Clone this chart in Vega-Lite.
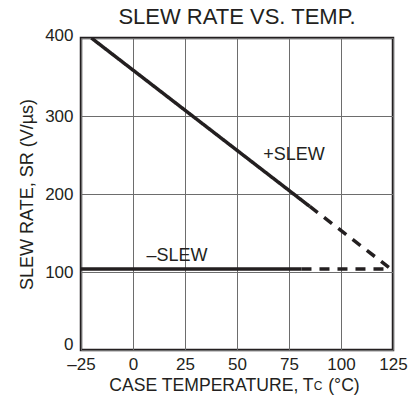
{
  "$schema": "https://vega.github.io/schema/vega-lite/v6.json",
  "width": 312,
  "height": 312,
  "autosize": {"type": "none"},
  "padding": {"left": 81, "top": 38, "right": 24, "bottom": 50},
  "background": "white",
  "config": {
    "font": "Liberation Sans",
    "view": {"stroke": "#231f20", "strokeWidth": 2.5},
    "axis": {
      "grid": true,
      "gridColor": "#6d6d6d",
      "gridWidth": 1,
      "gridOpacity": 1,
      "domain": false,
      "ticks": false,
      "labelFont": "Liberation Sans",
      "labelFontSize": 17,
      "labelColor": "#231f20",
      "titleFont": "Liberation Sans",
      "titleFontSize": 18,
      "titleFontWeight": "normal",
      "titleColor": "#231f20"
    },
    "title": {"font": "Liberation Sans", "fontSize": 22, "fontWeight": "normal", "color": "#231f20"}
  },
  "title": {"text": "SLEW RATE VS. TEMP.", "anchor": "middle", "offset": -3},
  "datasets": {
    "lines": [
      {"segment": "plus_solid", "style": "solid", "temp": -20, "sr": 400},
      {"segment": "plus_solid", "style": "solid", "temp": 85, "sr": 184},
      {"segment": "plus_dashed", "style": "dashed", "temp": 85, "sr": 184},
      {"segment": "plus_dashed", "style": "dashed", "temp": 123, "sr": 106},
      {"segment": "minus_solid", "style": "solid", "temp": -25, "sr": 104},
      {"segment": "minus_solid", "style": "solid", "temp": 81, "sr": 104},
      {"segment": "minus_dashed", "style": "dashed", "temp": 81, "sr": 104},
      {"segment": "minus_dashed", "style": "dashed", "temp": 122, "sr": 104}
    ],
    "labels": [
      {"label": "+SLEW", "temp": 77.4, "sr": 250},
      {"label": "–SLEW", "temp": 21.2, "sr": 120.5}
    ],
    "sub": [
      {"label": "C", "temp": 89, "sr": -46}
    ]
  },
  "layer": [
    {
      "data": {"name": "lines"},
      "mark": {"type": "line", "color": "#231f20", "strokeWidth": 3.5, "clip": true},
      "encoding": {
        "x": {
          "field": "temp", "type": "quantitative",
          "scale": {"domain": [-25, 125], "nice": false, "zero": false},
          "axis": {"values": [-25, 0, 25, 50, 75, 100, 125], "labelExpr": "replace(datum.label, '−', '–')", "labelPadding": 6, "titlePadding": 4, "labelFlush": false, "titleX": 153, "titleFontSize": 17.6},
          "title": "CASE TEMPERATURE, T\u00a0\u00a0\u00a0(°C)"
        },
        "y": {
          "field": "sr", "type": "quantitative",
          "scale": {"domain": [0, 400], "nice": false},
          "axis": {
            "values": [0, 100, 200, 300, 400],
            "labelPadding": 8,
            "titlePadding": 8,
            "labelFlush": false,
            "labelOffset": {"condition": [{"test": "datum.value == 0", "value": -6}, {"test": "datum.value == 400", "value": -3}], "value": 0}
          },
          "title": "SLEW RATE, SR (V/µs)"
        },
        "detail": {"field": "segment", "type": "nominal"},
        "strokeDash": {
          "field": "style", "type": "nominal",
          "scale": {"domain": ["solid", "dashed"], "range": [[1, 0], [10, 8]]},
          "legend": null
        }
      }
    },
    {
      "data": {"name": "labels"},
      "mark": {"type": "text", "fontSize": 18, "color": "#231f20", "align": "center", "baseline": "middle"},
      "encoding": {
        "x": {"field": "temp", "type": "quantitative"},
        "y": {"field": "sr", "type": "quantitative"},
        "text": {"field": "label"}
      }
    },
    {
      "data": {"name": "sub"},
      "mark": {"type": "text", "fontSize": 12, "color": "#231f20", "align": "center", "baseline": "middle"},
      "encoding": {
        "x": {"field": "temp", "type": "quantitative"},
        "y": {"field": "sr", "type": "quantitative"},
        "text": {"field": "label"}
      }
    }
  ]
}
